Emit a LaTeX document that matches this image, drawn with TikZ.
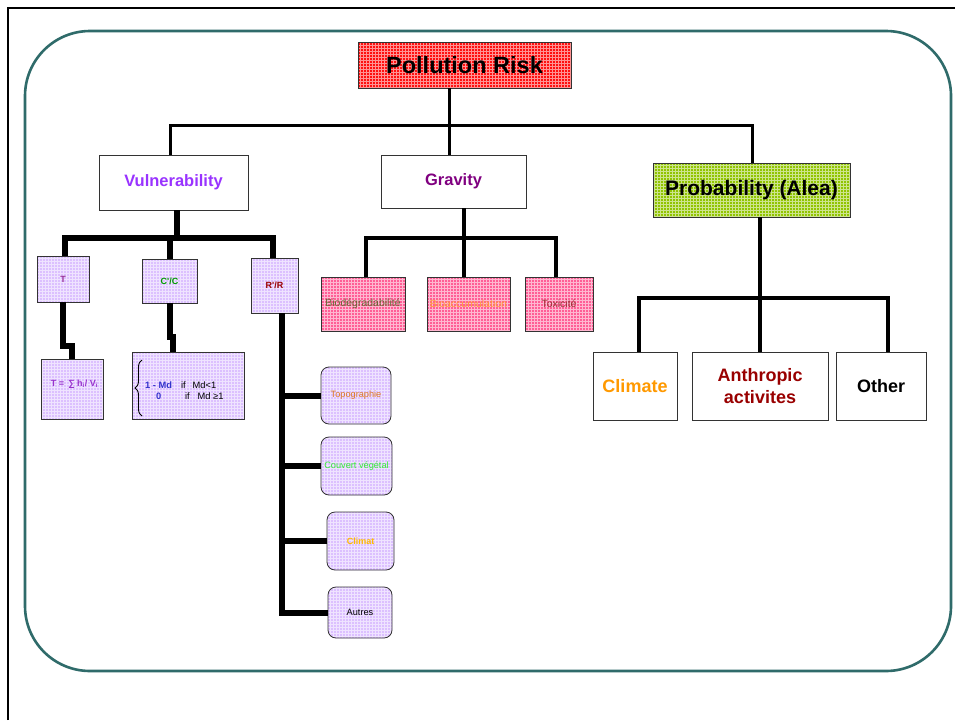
\documentclass[tikz,border=0pt]{standalone}
\usepackage{fontspec}
\setmainfont{Liberation Sans}
\usetikzlibrary{patterns,decorations.pathreplacing}

\definecolor{frameteal}{HTML}{2F6B6A}
\definecolor{boxline}{HTML}{333333}
\definecolor{riskred}{HTML}{FF1010}
\definecolor{probgreen}{HTML}{90C400}
\definecolor{gravpink}{HTML}{FF5E96}
\definecolor{lav}{HTML}{DCC0FF}
\definecolor{cVul}{HTML}{9933FF}
\definecolor{cGrav}{HTML}{800080}
\definecolor{cT}{HTML}{993399}
\definecolor{cCC}{HTML}{009900}
\definecolor{cRR}{HTML}{990000}
\definecolor{cForm}{HTML}{9933CC}
\definecolor{cMd}{HTML}{3333CC}
\definecolor{cBio}{HTML}{666633}
\definecolor{cBioacc}{HTML}{FF9933}
\definecolor{cTox}{HTML}{993333}
\definecolor{cTopo}{HTML}{DD7722}
\definecolor{cCouv}{HTML}{33EE33}
\definecolor{cClimat}{HTML}{FFBB00}
\definecolor{cClimate}{HTML}{FF9900}
\definecolor{cAnth}{HTML}{990000}

\begin{document}
\begin{tikzpicture}[x=1pt,y=-1pt,
  box/.style={draw=boxline, line width=0.8pt, inner sep=0pt, align=center},
  gridfill/.style={preaction={fill=#1}, pattern=grid, pattern color=#1!45!white},
  redbox/.style={box, gridfill=riskred},
  greenbox/.style={box, gridfill=probgreen},
  pinkbox/.style={box, gridfill=gravpink},
  lavbox/.style={box, gridfill=lav},
  roundlav/.style={lavbox, rounded corners=8pt},
  plainbox/.style={box, fill=white},
  fbig/.style={font=\fontsize{23.5}{28}\selectfont\bfseries},
  fprob/.style={font=\fontsize{21}{25}\selectfont\bfseries},
  fmid/.style={font=\fontsize{16.5}{20}\selectfont\bfseries},
  fleaf/.style={font=\fontsize{18}{21.5}\selectfont\bfseries},
  fsmallb/.style={font=\fontsize{9}{11}\selectfont\bfseries},
  fsmall/.style={font=\fontsize{9.2}{11}\selectfont},
  fpink/.style={font=\fontsize{10.5}{12}\selectfont},
  lineA/.style={line width=3pt, line join=miter},
  lineB/.style={line width=4pt, line join=miter},
  heavy/.style={line width=6pt, line join=miter}
]
\useasboundingbox (0,0) rectangle (955,720);
\fill[white] (0,0) rectangle (955,720);

% page frame and rounded panel
\draw[black, line width=2pt] (8,720) -- (8,8) -- (955,8);
\draw[frameteal, line width=2.6pt, rounded corners=65pt] (25,31) rectangle (951,671);

% top level
\node[redbox, fbig, minimum width=213pt, minimum height=46pt] (risk) at (464.5,65) {Pollution Risk};
\node[plainbox, fmid, text=cVul, minimum width=149pt, minimum height=55pt] (vul) at (173.5,182.5) {Vulnerability};
\node[plainbox, fmid, text=cGrav, minimum width=145pt, minimum height=53pt] (grav) at (453.5,181.5) {Gravity};
\node[greenbox, fprob, minimum width=197pt, minimum height=54pt] (prob) at (751.5,190) {Probability (Alea)};

% vulnerability branch
\node[lavbox, fsmallb, text=cT, minimum width=52pt, minimum height=46pt] (T) at (63,279) {T};
\node[lavbox, fsmallb, text=cCC, minimum width=55pt, minimum height=44pt] (CC) at (169.5,281) {C\textquotesingle/C};
\node[lavbox, fsmallb, text=cRR, minimum width=47pt, minimum height=55pt] (RR) at (274.5,285.5) {R\textquotesingle/R};
\node[lavbox, minimum width=62pt, minimum height=60pt] (Tf) at (72,389) {};
\node[fsmallb, text=cForm, inner sep=0pt] (Tftext) at (74.5,384) {T =\, ∑ h\textsubscript{i}/ V\textsubscript{i}};
\node[lavbox, minimum width=112pt, minimum height=67pt] (Md) at (188,385.5) {};
\node[font=\fontsize{9.3}{11}\selectfont, inner sep=0pt, anchor=west] (Mdtext) at (145,391.5) {%
  \begin{tabular}{@{}c@{\hspace{9pt}}l@{}}
  \textcolor{cMd}{\bfseries 1 - Md} & if\hspace{7pt}Md<1\\
  \textcolor{cMd}{\bfseries 0} & \hspace{4pt}if\hspace{8pt}Md ≥1
  \end{tabular}};
\draw[black, line width=0.9pt, decorate, decoration={brace, amplitude=7pt}] (142,416) -- (142,360);

\node[roundlav, fsmall, text=cTopo, minimum width=70pt, minimum height=57pt] (topo) at (356,395.5) {Topographie};
\node[roundlav, fsmall, text=cCouv, minimum width=71pt, minimum height=58pt] (couv) at (356.5,466) {Couvert végétal};
\node[roundlav, fsmallb, text=cClimat, minimum width=67pt, minimum height=58pt] (climat) at (360.5,541) {Climat};
\node[roundlav, fsmall, text=black, minimum width=64pt, minimum height=51pt] (autres) at (360,612.5) {Autres};

% gravity branch
\node[pinkbox, fpink, text=cBio, minimum width=84pt, minimum height=54pt] (bio) at (363,304) {Biodégradabilité};
\node[pinkbox, fpink, text=cBioacc, minimum width=83pt, minimum height=54pt] (bioacc) at (468.5,304) {Bioaccumulation};
\node[pinkbox, fpink, text=cTox, minimum width=68pt, minimum height=54pt] (tox) at (559,304) {Toxicité};

% probability branch
\node[plainbox, fleaf, text=cClimate, minimum width=84pt, minimum height=68pt] (clim) at (635,386) {Climate};
\node[plainbox, fleaf, text=cAnth, minimum width=136pt, minimum height=68pt] (anth) at (760,386) {Anthropic\\activites};
\node[plainbox, fleaf, text=black, minimum width=90pt, minimum height=68pt] (other) at (881,386) {Other};

% connectors: top level
\coordinate (topbar) at (449,125);
\draw[lineA] ([xshift=-15.5pt]risk.south) -- (topbar);
\draw[lineA] ([xshift=-3.5pt]vul.north) |- (topbar) -| ([xshift=0.5pt]prob.north);
\draw[lineA] (topbar) -- ([xshift=-4.5pt]grav.north);

% connectors: vulnerability
\coordinate (vbar) at (177,238);
\draw[heavy] ([xshift=3.5pt]vul.south) -- (vbar);
\draw[heavy] ([xshift=2pt]T.north) |- (vbar) -| ([xshift=-1.5pt]RR.north);
\draw[heavy] (CC.north) -- (CC.north |- vbar);
\draw[heavy] (T.south) -- ++(0,44) -| (Tf.north);
\draw[heavy] (CC.south) -- ++(0,34) -| ([xshift=-15pt]Md.north);
\coordinate (spine) at ([xshift=7.5pt]RR.south);
\draw[heavy] (spine) |- (autres.west);
\draw[heavy] (topo.west) -- (topo.west -| spine);
\draw[heavy] (couv.west) -- (couv.west -| spine);
\draw[heavy] (climat.west) -- (climat.west -| spine);

% connectors: gravity
\coordinate (gbar) at (464,238);
\draw[lineB] ([xshift=10.5pt]grav.south) -- (gbar);
\draw[lineB] ([xshift=3pt]bio.north) |- (gbar) -| ([xshift=-3pt]tox.north);
\draw[lineB] (gbar) -- ([xshift=-4.5pt]bioacc.north);

% connectors: probability
\coordinate (pbar) at (760,298);
\draw[lineB] ([xshift=8.5pt]prob.south) -- (pbar);
\draw[lineB] ([xshift=4pt]clim.north) |- (pbar) -| ([xshift=7pt]other.north);
\draw[lineB] (pbar) -- (anth.north);
\end{tikzpicture}
\end{document}
